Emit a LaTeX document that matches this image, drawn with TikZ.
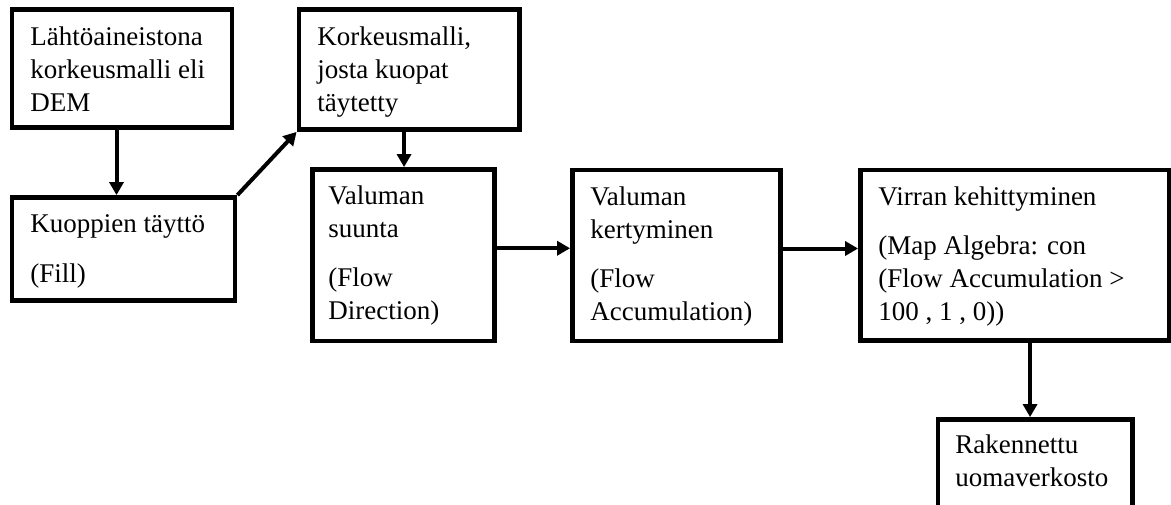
\documentclass[tikz,border=0pt]{standalone}
\usepackage{fontspec}
\setmainfont{Liberation Serif}
\usetikzlibrary{arrows.meta}
\newcommand\boxlines[1]{\vtop{\baselineskip=16.5pt\lineskiplimit=-20pt #1}}
\newcommand\pgap{\vskip8.25pt}
\begin{document}
\begin{tikzpicture}[x=0.5pt,y=-0.5pt,
  stepbox/.style={draw, line width=2.4pt, inner sep=0pt, rectangle},
  boxtext/.style={anchor=base west, inner sep=0pt, font=\fontsize{13.5}{16.5}\selectfont},
  flow/.style={line width=2pt, -{Triangle[length=6.5pt,width=7pt]}}]
\useasboundingbox (0,0) rectangle (1171,504);
\clip (0,0) rectangle (1171,504);
\fill[white] (0,0) rectangle (1171,504);
% boxes
\node[stepbox, minimum width=110pt,   minimum height=59pt]    (b1) at (122,68.5) {};
\node[stepbox, minimum width=111.5pt, minimum height=51.5pt]  (b2) at (123.5,249) {};
\node[stepbox, minimum width=110.25pt,minimum height=60pt]    (b3) at (409.25,69.5) {};
\node[stepbox, minimum width=91pt,    minimum height=85.75pt] (b4) at (403.5,255.25) {};
\node[stepbox, minimum width=104pt,   minimum height=85.5pt]  (b5) at (676.5,255.5) {};
\node[stepbox, minimum width=154.25pt,minimum height=85.25pt] (b6) at (1014.75,255.25) {};
\node[stepbox, minimum width=97.25pt, minimum height=46.25pt] (b7) at (1035.25,465.75) {};
% texts
\node[boxtext] (t1) at (30,45) {\boxlines{\hbox{Lähtöaineistona}\hbox{korkeusmalli eli}\hbox{DEM}}};
\node[boxtext] (t2) at (30,232.7) {\boxlines{\hbox{Kuoppien täyttö}\pgap\hbox{(Fill)}}};
\node[boxtext] (t3) at (317,45) {\boxlines{\hbox{Korkeusmalli,}\hbox{josta kuopat}\hbox{täytetty}}};
\node[boxtext] (t4) at (328,204) {\boxlines{\hbox{Valuman}\hbox{suunta}\pgap\hbox{(Flow}\hbox{Direction)}}};
\node[boxtext] (t5) at (590,205) {\boxlines{\hbox{Valuman}\hbox{kertyminen}\pgap\hbox{(Flow}\hbox{Accumulation)}}};
\node[boxtext] (t6) at (878,205) {\boxlines{\hbox{Virran kehittyminen}\pgap\hbox{(Map Algebra: con}\hbox{(Flow Accumulation >}\hbox{100 , 1 , 0))}}};
\node[boxtext] (t7) at (955,453) {\boxlines{\hbox{Rakennettu}\hbox{uomaverkosto}}};
% connectors
\draw[flow] ([xshift=-2.75pt]b1.south) -- ([xshift=-2.75pt]b1.south |- b2.north);
\draw[flow] (b2.north east) -- (b3.south west);
\draw[flow] ([xshift=-2.6pt]b3.south) -- ([xshift=-2.6pt]b3.south |- b4.north);
\draw[flow] ([yshift=3.5pt]b4.east) -- ([yshift=3.5pt]b4.east -| b5.west);
\draw[flow] ([yshift=3.5pt]b5.east) -- ([yshift=3.5pt]b5.east -| b6.west);
\draw[flow] ([xshift=-2.6pt]b7.north |- b6.south) -- ([xshift=-2.6pt]b7.north);
\end{tikzpicture}
\end{document}
